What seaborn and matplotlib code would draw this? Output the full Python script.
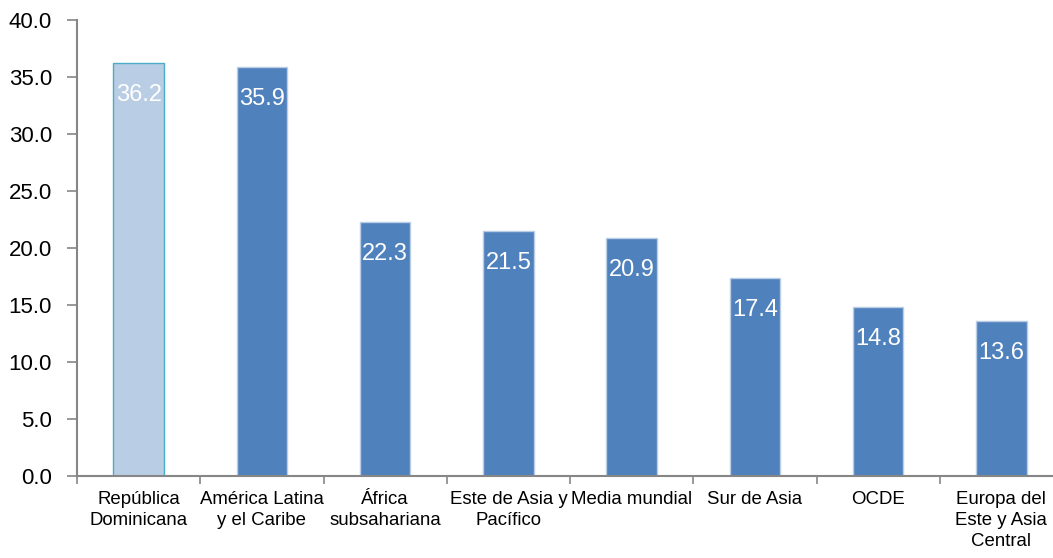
import matplotlib
matplotlib.use("Agg")
import matplotlib.pyplot as plt
from matplotlib.ticker import FixedLocator, MultipleLocator, FormatStrFormatter
import seaborn as sns

categories = [
    "República\nDominicana",
    "América Latina\ny el Caribe",
    "África\nsubsahariana",
    "Este de Asia y\nPacífico",
    "Media mundial",
    "Sur de Asia",
    "OCDE",
    "Europa del\nEste y Asia\nCentral",
]
values = [36.2, 35.9, 22.3, 21.5, 20.9, 17.4, 14.8, 13.6]

highlight_fill = "#B9CDE5"
highlight_edge = "#4BACC6"
base_fill = "#4F81BD"
base_edge = "#B9CDE5"

sns.set_theme(style="white")
plt.rcParams["font.family"] = ["Liberation Sans", "DejaVu Sans"]

fig = plt.figure(figsize=(10.53, 5.58), dpi=100)
ax = fig.add_axes([77 / 1053, 1 - 476 / 558, 986 / 1053, 456 / 558])

fills = [highlight_fill] + [base_fill] * (len(categories) - 1)
edges = [highlight_edge] + [base_edge] * (len(categories) - 1)

sns.barplot(x=categories, y=values, hue=categories, palette=fills,
            legend=False, width=0.41, saturation=1, ax=ax)

for container, ec in zip(ax.containers, edges):
    for patch in container:
        patch.set_edgecolor(ec)
        patch.set_linewidth(1.0)
    ax.bar_label(container, labels=[f"{v:.1f}" for v in container.datavalues],
                 padding=-31, color="white", fontsize=17)

ax.set_xlim(-0.5, len(categories) - 0.5)
ax.set_ylim(0, 40)
ax.yaxis.set_major_locator(MultipleLocator(5))
ax.yaxis.set_major_formatter(FormatStrFormatter("%.1f"))

# category boundaries carry the tick marks, centres carry the labels
ax.xaxis.set_major_locator(FixedLocator([i - 0.5 for i in range(len(categories) + 1)]))
ax.xaxis.set_minor_locator(FixedLocator(list(range(len(categories)))))
ax.set_xticklabels([])
ax.set_xticklabels(categories, minor=True, fontsize=13.4, linespacing=1.3, color="black")
ax.tick_params(axis="x", which="minor", length=0, pad=11)
ax.tick_params(axis="x", which="major", length=6, width=1.2, color="#868686", direction="out")
ax.tick_params(axis="y", length=7, width=1.2, color="#868686", direction="out",
               labelsize=16, pad=11, labelcolor="black")
ax.tick_params(left=True, bottom=True)

for side in ("top", "right"):
    ax.spines[side].set_visible(False)
for side in ("left", "bottom"):
    ax.spines[side].set_color("#868686")
    ax.spines[side].set_linewidth(1.5)

ax.set_xlabel("")
ax.set_ylabel("")

fig.savefig("out.png", dpi=100)
